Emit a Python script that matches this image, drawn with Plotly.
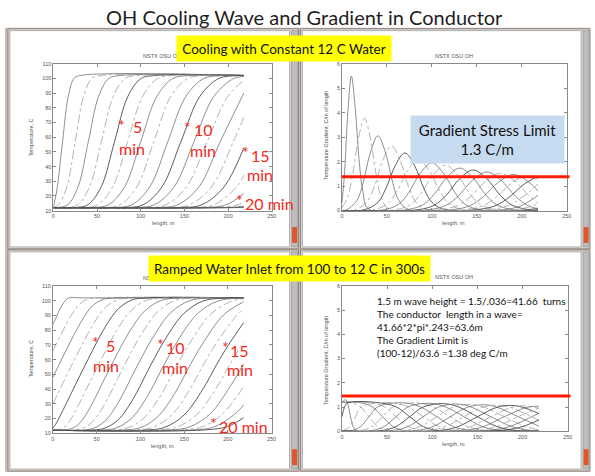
import plotly.graph_objects as go

# ---------------- DATA ----------------
# Top-left: temperature profiles, constant 12 C water (one curve per minute)
TL_X = [
    [0, 4, 10.5, 17, 23.5, 30, 218],
    [0, 6, 15.5, 25, 34.5, 44, 53.5, 218],
    [0, 4.9, 16.6, 28.3, 40, 51.7, 63.4, 75.1, 218],
    [0, 14.5, 28, 41.5, 55, 68.5, 82, 95.5, 218],
    [0, 24.4, 39.6, 54.8, 70, 85.2, 100.4, 115.6, 218],
    [0, 33.7, 50.8, 67.9, 85, 102.1, 119.2, 136.3, 218],
    [0, 44.8, 63.2, 81.6, 100, 118.4, 136.8, 155.2, 218],
    [0, 57.1, 76.4, 95.7, 115, 134.3, 153.6, 172.9, 218],
    [0, 69.2, 89.8, 110.4, 131, 151.6, 172.2, 192.8, 218],
    [0, 81.2, 102.8, 124.4, 146, 167.6, 189.2, 210.8, 218],
    [0, 92.9, 115.6, 138.3, 161, 183.7, 206.4, 218],
    [0, 105.2, 128.8, 152.4, 176, 199.6, 218],
    [0, 118.1, 142.4, 166.7, 191, 218],
    [0, 131.3, 156.2, 181.1, 206, 218],
    [0, 144.5, 170, 195.5, 218],
    [0, 158, 184, 210, 218],
    [0, 171.2, 197.8, 218],
    [0, 184.4, 211.6, 218],
    [0, 197.6, 218],
    [0, 210.5, 218],
]
TL_Y = [
    [12.5, 24, 57, 87.7, 99.95, 101.9, 102],
    [12.4, 14.05, 26.3, 57, 87.7, 99.95, 101.9, 102],
    [12, 12.1, 14.05, 26.3, 57, 87.7, 99.95, 101.9, 102],
    [12, 12.1, 14.05, 26.3, 57, 87.7, 99.95, 101.9, 102],
    [12, 12.1, 14.05, 26.3, 57, 87.7, 99.95, 101.9, 102],
    [12, 12.1, 14.05, 26.3, 57, 87.7, 99.95, 101.9, 102],
    [12, 12.1, 14.05, 26.3, 57, 87.7, 99.95, 101.9, 102],
    [12, 12.1, 14.05, 26.3, 57, 87.7, 99.95, 101.9, 102],
    [12, 12.1, 14.05, 26.3, 57, 87.7, 99.95, 101.9, 102],
    [12, 12.1, 14.05, 26.3, 57, 87.7, 99.95, 101.9, 102],
    [12, 12.1, 14.05, 26.3, 57, 87.7, 99.95, 101.4],
    [12, 12.1, 14.05, 26.3, 57, 87.7, 98.6],
    [12, 12.1, 14.05, 26.3, 57, 90.0],
    [12, 12.1, 14.05, 26.3, 57, 73.6],
    [12, 12.1, 14.05, 26.3, 52.8],
    [12, 12.1, 14.05, 26.3, 34.1],
    [12, 12.1, 14.05, 21.7],
    [12, 12.1, 14.05, 15.5],
    [12, 12.1, 13.0],
    [12, 12.1, 12.3],
]

# Top-right: temperature gradient, constant 12 C water
TR_X = [
    [0, 3, 6.5, 10.5, 14.5, 19, 23.5, 30, 218],
    [0, 6, 11.7, 18.35, 25, 31.65, 38.3, 44, 53.5, 218],
    [0, 4.9, 16.6, 23.6, 31.8, 40, 48.2, 56.4, 63.4, 75.1, 218],
    [0, 14.5, 28, 36.1, 45.55, 55, 64.45, 73.9, 82, 95.5, 218],
    [0, 24.4, 39.6, 48.7, 59.4, 70, 80.6, 91.3, 100.4, 115.6, 218],
    [0, 33.7, 50.8, 61.1, 73.0, 85, 97.0, 108.9, 119.2, 136.3, 218],
    [0, 44.8, 63.2, 74.2, 87.1, 100, 112.9, 125.8, 136.8, 155.2, 218],
    [0, 57.1, 76.4, 88.0, 101.5, 115, 128.5, 142.0, 153.6, 172.9, 218],
    [0, 69.2, 89.8, 102.2, 116.6, 131, 145.4, 159.8, 172.2, 192.8, 218],
    [0, 81.2, 102.8, 115.8, 130.9, 146, 161.1, 176.2, 189.2, 210.8, 218],
    [0, 92.9, 115.6, 129.2, 145.1, 161, 176.9, 192.8, 206.4, 218],
    [0, 105.2, 128.8, 143.0, 159.5, 176, 192.5, 209.0, 218],
    [0, 118.1, 142.4, 157.0, 174.0, 191, 208.0, 218],
    [0, 131.3, 156.2, 171.1, 188.6, 206, 218],
    [0, 144.5, 170, 185.3, 203.2, 218],
    [0, 158, 184, 199.6, 218],
    [0, 171.2, 197.8, 218],
    [0, 184.4, 211.6, 218],
    [0, 197.6, 218],
    [0, 210.5, 218],
]
TR_Y = [
    [0.3, 1.6, 4.0, 5.5, 4.3, 2.1, 0.74, 0.06, 0],
    [0.12, 0.51, 1.42, 2.96, 3.78, 2.96, 1.42, 0.51, 0.04, 0],
    [0, 0.03, 0.41, 1.15, 2.40, 3.06, 2.40, 1.15, 0.41, 0.03, 0],
    [0, 0.03, 0.36, 0.99, 2.07, 2.65, 2.07, 0.99, 0.36, 0.03, 0],
    [0, 0.03, 0.32, 0.89, 1.85, 2.36, 1.85, 0.89, 0.32, 0.03, 0],
    [0, 0.02, 0.28, 0.79, 1.64, 2.1, 1.64, 0.79, 0.28, 0.02, 0],
    [0, 0.02, 0.26, 0.73, 1.53, 1.95, 1.53, 0.73, 0.26, 0.02, 0],
    [0, 0.02, 0.25, 0.70, 1.46, 1.86, 1.46, 0.70, 0.25, 0.02, 0],
    [0, 0.02, 0.23, 0.65, 1.36, 1.74, 1.36, 0.65, 0.23, 0.02, 0],
    [0, 0.02, 0.22, 0.62, 1.30, 1.66, 1.30, 0.62, 0.22, 0.02, 0.01],
    [0, 0.02, 0.21, 0.59, 1.24, 1.58, 1.24, 0.59, 0.21, 0.07],
    [0, 0.02, 0.21, 0.57, 1.19, 1.52, 1.19, 0.57, 0.31],
    [0, 0.02, 0.20, 0.56, 1.16, 1.48, 1.16, 0.80],
    [0, 0.02, 0.19, 0.54, 1.13, 1.44, 1.28],
    [0, 0.02, 0.19, 0.53, 1.10, 1.40],
    [0, 0.02, 0.19, 0.52, 1.09],
    [0, 0.01, 0.18, 0.62],
    [0, 0.01, 0.18, 0.28],
    [0, 0.01, 0.10],
    [0, 0.01, 0.03],
]

# Bottom-left: temperature profiles, ramped inlet 100 -> 12 C in 300 s
BL_X = [
    [0, 4, 8, 12, 16, 20, 26, 35, 218],
    [0, 20.5, 30, 39.5, 49, 218],
    [0, 33.3, 45, 56.7, 68.4, 218],
    [0, 46.5, 60, 73.5, 87, 218],
    [0, 3, 37.5, 59.8, 75, 90.2, 105.4, 218],
    [0, 2, 8.5, 15, 21.5, 52.5, 72.9, 90, 107.1, 124.2, 218],
    [0, 11, 20.5, 30, 39.5, 67.5, 86.6, 105, 123.4, 141.8, 218],
    [0, 21.6, 33.3, 45, 56.7, 82.5, 100.7, 120, 139.3, 158.6, 218],
    [0, 33, 46.5, 60, 73.5, 97.5, 114.4, 135, 155.6, 176.2, 218],
    [0, 44.6, 59.8, 75, 90.2, 112.5, 128.4, 150, 171.6, 193.2, 218],
    [0, 55.8, 72.9, 90, 107.1, 127.5, 142.3, 165, 187.7, 210.4, 218],
    [0, 68.2, 86.6, 105, 123.4, 142.5, 156.4, 180, 203.6, 218],
    [0, 81.4, 100.7, 120, 139.3, 157.5, 170.7, 195, 218],
    [0, 93.8, 114.4, 135, 155.6, 172.5, 185.1, 210, 218],
    [0, 106.8, 128.4, 150, 171.6, 187.5, 199.5, 218],
    [0, 119.6, 142.3, 165, 187.7, 202.5, 218],
    [0, 132.8, 156.4, 180, 203.6, 218],
    [0, 146.4, 170.7, 195, 218],
    [0, 160.2, 185.1, 210, 218],
    [0, 174, 199.5, 218],
]
BL_Y = [
    [84, 89, 94.5, 98.5, 101.2, 102.3, 102.1, 102, 102],
    [66, 89.65, 97.4, 101.05, 101.9, 102],
    [48, 86.8, 96.4, 100.8, 101.8, 102],
    [30, 84.45, 95.5, 100.65, 101.85, 102],
    [13.4, 15.9, 57, 82.2, 94.7, 100.5, 101.85, 102],
    [12, 12.1, 12.65, 15.1, 20.45, 57, 79.8, 93.8, 100.3, 101.8, 102],
    [12, 12.1, 12.95, 16.55, 24.35, 57, 78.1, 93.15, 100.15, 101.8, 102],
    [12, 12.1, 13.2, 17.6, 27.2, 57, 76.9, 92.7, 100.1, 101.8, 102],
    [12, 12.1, 13.35, 18.5, 29.55, 57, 75.2, 92.1, 99.9, 101.8, 102],
    [12, 12.15, 13.5, 19.3, 31.75, 57, 73.9, 91.6, 99.85, 101.8, 102],
    [12, 12.15, 13.7, 20.2, 34.2, 57, 72.5, 91.1, 99.7, 101.8, 101.9],
    [12, 12.2, 13.85, 20.8, 35.9, 57, 71.3, 90.7, 99.6, 101.35],
    [12, 12.2, 13.9, 21.25, 37.1, 57, 70.4, 90.35, 99.3],
    [12, 12.2, 14.05, 21.9, 38.8, 57, 69.6, 90.05, 94.3],
    [12, 12.2, 14.15, 22.4, 40.1, 57, 68.85, 85.1],
    [12, 12.2, 14.3, 22.9, 41.5, 57, 72.3],
    [12, 12.25, 14.35, 23.3, 42.7, 57.0],
    [12, 12.25, 14.4, 23.7, 41.9],
    [12, 12.25, 14.5, 24.0, 29.3],
    [12, 12.25, 14.55, 20.5],
]

# Bottom-right: temperature gradient, ramped inlet
BR_X = [
    [0, 4, 7, 10, 13, 17, 25, 218],
    [0, 11, 20.5, 30, 39.5, 49, 60, 218],
    [0, 21.6, 33.3, 45, 56.7, 68.4, 80, 218],
    [0, 33, 46.5, 60, 73.5, 87, 100, 218],
    [0, 3, 6, 37.5, 59.8, 75, 90.2, 105.4, 125, 218],
    [0, 2, 8.5, 15, 21.5, 52.5, 72.9, 90, 107.1, 124.2, 145, 218],
    [0, 11, 20.5, 30, 39.5, 67.5, 86.6, 105, 123.4, 141.8, 165, 218],
    [0, 21.6, 33.3, 45, 56.7, 82.5, 100.7, 120, 139.3, 158.6, 180, 218],
    [0, 33, 46.5, 60, 73.5, 97.5, 114.4, 135, 155.6, 176.2, 200, 218],
    [0, 44.6, 59.8, 75, 90.2, 112.5, 128.4, 150, 171.6, 193.2, 218],
    [0, 55.8, 72.9, 90, 107.1, 127.5, 142.3, 165, 187.7, 210.4, 218],
    [0, 68.2, 86.6, 105, 123.4, 142.5, 156.4, 180, 203.6, 218],
    [0, 81.4, 100.7, 120, 139.3, 157.5, 170.7, 195, 218],
    [0, 93.8, 114.4, 135, 155.6, 172.5, 185.1, 210, 218],
    [0, 106.8, 128.4, 150, 171.6, 187.5, 199.5, 218],
    [0, 119.6, 142.3, 165, 187.7, 202.5, 218],
    [0, 132.8, 156.4, 180, 203.6, 218],
    [0, 146.4, 170.7, 195, 218],
    [0, 160.2, 185.1, 210, 218],
    [0, 174, 199.5, 218],
]
BR_Y = [
    [1.2, 1.3, 1.05, 0.5, 0.15, 0.02, 0, 0],
    [1.2, 1.17, 1.01, 0.6, 0.19, 0.03, 0, 0],
    [1.2, 1.17, 1.01, 0.6, 0.19, 0.03, 0, 0],
    [1.2, 1.17, 1.01, 0.6, 0.19, 0.03, 0, 0],
    [0.6, 1.01, 1.17, 1.19, 1.01, 0.6, 0.19, 0.03, 0, 0],
    [0, 0.03, 0.19, 0.6, 1.01, 1.18, 1.01, 0.6, 0.19, 0.03, 0, 0],
    [0, 0.03, 0.19, 0.6, 1.01, 1.175, 1.01, 0.6, 0.19, 0.03, 0, 0],
    [0, 0.03, 0.19, 0.6, 1.01, 1.17, 1.01, 0.6, 0.19, 0.03, 0, 0],
    [0, 0.03, 0.19, 0.6, 1.01, 1.155, 1.01, 0.6, 0.19, 0.03, 0, 0],
    [0, 0.03, 0.19, 0.6, 1.006, 1.14, 1.01, 0.6, 0.19, 0.03, 0],
    [0, 0.03, 0.19, 0.6, 1.0, 1.124, 1.008, 0.6, 0.19, 0.03, 0.012],
    [0, 0.03, 0.19, 0.6, 1.0, 1.108, 1.006, 0.6, 0.19, 0.064],
    [0, 0.03, 0.19, 0.6, 0.996, 1.095, 1.004, 0.6, 0.21],
    [0, 0.03, 0.19, 0.6, 0.992, 1.08, 1.0, 0.6, 0.45],
    [0, 0.03, 0.19, 0.6, 0.988, 1.065, 0.996, 0.73],
    [0, 0.03, 0.19, 0.6, 0.983, 1.05, 0.95],
    [0, 0.03, 0.19, 0.6, 0.977, 1.04],
    [0, 0.03, 0.19, 0.6, 0.96],
    [0, 0.03, 0.19, 0.6, 0.74],
    [0, 0.03, 0.19, 0.47],
]

GRADIENT_LIMITS = [1.38, 1.45]          # red limit lines (top-right, bottom-right)
X_TICKS = [0, 50, 100, 150, 200, 250]
T_TICKS = [10, 20, 30, 40, 50, 60, 70, 80, 90, 100, 110]
G_TICKS = [0, 1, 2, 3, 4, 5, 6]

TITLE = "OH Cooling Wave and Gradient in Conductor"
TOP_LABEL = "Cooling with Constant 12 C Water"
BOTTOM_LABEL = "Ramped Water Inlet from 100 to 12 C in 300s"
LIMIT_BOX = "Gradient Stress Limit<br>1.3 C/m"
NOTE_LINES = [
    "1.5 m wave height = 1.5/.036=41.66  turns",
    "The conductor  length in a wave=",
    "41.66*2*pi*.243=63.6m",
    "The Gradient Limit is",
    "(100-12)/63.6 =1.38 deg C/m",
]

# ---------------- LAYOUT HELPERS ----------------
W, H = 595, 476


def px(x):
    return x / W


def py(y):
    return 1 - y / H


fig = go.Figure()

panels = [
    (TL_X, TL_Y, ""),
    (TR_X, TR_Y, "2"),
    (BL_X, BL_Y, "3"),
    (BR_X, BR_Y, "4"),
]

for xs, ys, sfx in panels:
    for i, (cx, cy) in enumerate(zip(xs, ys)):
        k = i + 1
        if k % 5 == 0:
            color, dash, width = "#4a4a4a", "solid", 0.9
        elif i % 2 == 0:
            color, dash, width = "#6a6a6a", "solid", 0.75
        else:
            color, dash, width = "#9a9a9a", "dashdot", 0.75
        fig.add_trace(go.Scatter(
            x=cx, y=cy, mode="lines",
            line=dict(shape="spline", smoothing=1.0, color=color, width=width, dash=dash),
            xaxis="x" + sfx, yaxis="y" + sfx,
            showlegend=False, hoverinfo="skip",
        ))

# Gradient limit lines
for lim, sfx in zip(GRADIENT_LIMITS, ["2", "4"]):
    fig.add_shape(type="line", xref="x" + sfx + " domain", yref="y" + sfx,
                  x0=0, x1=1.012, y0=lim, y1=lim,
                  line=dict(color="#ff1a00", width=3), layer="above")

# ---------------- axes ----------------
tick_font = dict(family="Liberation Sans", size=5.5, color="#555555")
axis_common = dict(showline=True, mirror="ticks", linecolor="#8a8a8a", linewidth=0.8,
                   ticks="inside", ticklen=3, tickcolor="#8a8a8a", tickwidth=0.8,
                   showgrid=False, zeroline=False, tickfont=tick_font, fixedrange=True)

geom = {
    "": (52, 273, 61.5, 210.3, [10, 110], T_TICKS),
    "2": (344, 571.5, 61.8, 210.2, [0, 6], G_TICKS),
    "3": (51.5, 272.8, 286.7, 435.7, [10, 110], T_TICKS),
    "4": (344, 572.5, 286.5, 433.7, [0, 6], G_TICKS),
}
for sfx, (x0, x1, y0, y1, yr, yt) in geom.items():
    fig.layout["xaxis" + sfx] = dict(axis_common, domain=[px(x0), px(x1)], range=[0, 250],
                                     tickvals=X_TICKS, anchor="y" + sfx)
    fig.layout["yaxis" + sfx] = dict(axis_common, domain=[py(y1), py(y0)], range=yr,
                                     tickvals=yt, anchor="x" + sfx)

# ---------------- window frames (slide screenshot look) ----------------
shapes = []
shapes.append(dict(type="rect", xref="paper", yref="paper", x0=px(3), x1=px(595),
                   y0=py(475), y1=py(25), fillcolor="#c9bcb6", line=dict(width=0), layer="below"))
windows = [(6, 300, 26, 249), (302, 595, 26, 249), (6, 300, 250, 474), (302, 595, 250, 474)]
for (a, b, c, d) in windows:
    shapes.append(dict(type="rect", xref="paper", yref="paper", x0=px(a), x1=px(b),
                       y0=py(d), y1=py(c), fillcolor="#d9d4d2",
                       line=dict(color="#8f8580", width=1), layer="below"))
    shapes.append(dict(type="rect", xref="paper", yref="paper", x0=px(a + 2), x1=px(b - 9),
                       y0=py(d - 2), y1=py(c + 2), fillcolor="#ffffff",
                       line=dict(color="#b0b0b0", width=1), layer="below"))
    shapes.append(dict(type="rect", xref="paper", yref="paper", x0=px(b - 7), x1=px(b - 1),
                       y0=py(d - 2), y1=py(c + 2), fillcolor="#bdbdbd",
                       line=dict(color="#8a8a8a", width=0.5), layer="below"))
    shapes.append(dict(type="rect", xref="paper", yref="paper", x0=px(b - 6.5), x1=px(b - 1.5),
                       y0=py(d - 6), y1=py(d - 22), fillcolor="#e0562a",
                       line=dict(width=0), layer="below"))
for s in shapes:
    fig.add_shape(**s)

# ---------------- annotations ----------------
ann = []
ann.append(dict(text=TITLE, x=px(306.5), y=py(14), xref="paper", yref="paper",
                showarrow=False, font=dict(family="Lato", size=20, color="#1e1e1e"),
                xanchor="center", yanchor="middle"))

small = dict(family="Liberation Sans", size=5.5, color="#555555")
for cx, cy in [(162, 54), (457, 54), (162, 279), (457, 278)]:
    ann.append(dict(text="NSTX OSU OH", x=px(cx), y=py(cy), xref="paper", yref="paper",
                    showarrow=False, font=small, xanchor="center", yanchor="middle"))
for cx, cy in [(163, 223), (457, 223), (162, 449), (457, 447)]:
    ann.append(dict(text="length, m", x=px(cx), y=py(cy), xref="paper", yref="paper",
                    showarrow=False, font=small, xanchor="center", yanchor="middle"))
for cx, cy, t in [(29.5, 136, "Temperature, C"), (328.5, 134, "Temperature Gradient, C/m of length"),
                  (29.5, 360, "Temperature, C"), (328.5, 362, "Temperature Gradient, C/m of length")]:
    ann.append(dict(text=t, x=px(cx), y=py(cy), xref="paper", yref="paper", textangle=-90,
                    showarrow=False, font=small, xanchor="center", yanchor="middle"))

# Yellow labels
ann.append(dict(text=TOP_LABEL, x=px(285), y=py(46.3), xref="paper", yref="paper",
                showarrow=False, bgcolor="#ffff00", width=214, height=25, borderpad=0,
                font=dict(family="Lato", size=13.5, color="#111111"),
                xanchor="center", yanchor="middle"))
ann.append(dict(text=BOTTOM_LABEL, x=px(290.5), y=py(269), xref="paper", yref="paper",
                showarrow=False, bgcolor="#ffff00", width=281, height=25, borderpad=0,
                font=dict(family="Lato", size=13.5, color="#111111"),
                xanchor="center", yanchor="middle"))
# Light blue box
ann.append(dict(text=LIMIT_BOX, x=px(491.5), y=py(138.5), xref="paper", yref="paper",
                showarrow=False, bgcolor="#c6dbef", width=153, height=47, borderpad=0,
                font=dict(family="Lato", size=15, color="#111111"),
                xanchor="center", yanchor="middle"))
# Notes in bottom-right panel
ann.append(dict(text="<br>".join(NOTE_LINES), x=px(377.5), y=py(294), xref="paper", yref="paper",
                showarrow=False, align="left", xanchor="left", yanchor="top",
                font=dict(family="Lato", size=10, color="#111111")))

# Red time labels (data coordinates of each temperature panel)
red = "#f5281a"
rf = dict(family="Lato", size=16, color=red)
labels = [
    ("", (77.7, 68.5), "5", (96, 67), (90.2, 52.5)),
    ("", (153.8, 67.0), "10", (172, 65.3), (170.8, 51.2)),
    ("", (219.5, 50.5), "15", (237.2, 47.2), (236.4, 34.4)),
    ("3", (48.4, 72.5), "5", (65.3, 69.7), (60.5, 56.3)),
    ("3", (122.6, 71.3), "10", (140.3, 68.2), (139.2, 54.8)),
    ("3", (197.2, 69.2), "15", (213.8, 66.4), (213.8, 53.0)),
]
for sfx, st, num, npos, mpos in labels:
    xr, yr_ = "x" + sfx, "y" + sfx
    ann.append(dict(text="*", x=st[0], y=st[1], xref=xr, yref=yr_, showarrow=False, font=rf,
                    xanchor="center", yanchor="middle"))
    ann.append(dict(text=num, x=npos[0], y=npos[1], xref=xr, yref=yr_, showarrow=False, font=rf,
                    xanchor="center", yanchor="middle"))
    ann.append(dict(text="min", x=mpos[0], y=mpos[1], xref=xr, yref=yr_, showarrow=False, font=rf,
                    xanchor="center", yanchor="middle"))
for sfx, st, mid in [("", (212.7, 17.5), (247.2, 15.0)), ("3", (184, 17.6), (217.9, 14.3))]:
    xr, yr_ = "x" + sfx, "y" + sfx
    ann.append(dict(text="*", x=st[0], y=st[1], xref=xr, yref=yr_, showarrow=False, font=rf,
                    xanchor="center", yanchor="middle"))
    ann.append(dict(text="20 min", x=mid[0], y=mid[1], xref=xr, yref=yr_, showarrow=False, font=rf,
                    xanchor="center", yanchor="middle"))

fig.update_layout(
    width=W, height=H, margin=dict(l=0, r=0, t=0, b=0),
    paper_bgcolor="#ffffff", plot_bgcolor="rgba(0,0,0,0)",
    showlegend=False, annotations=ann,
)

fig.write_html("out.html", config={"displayModeBar": False})
